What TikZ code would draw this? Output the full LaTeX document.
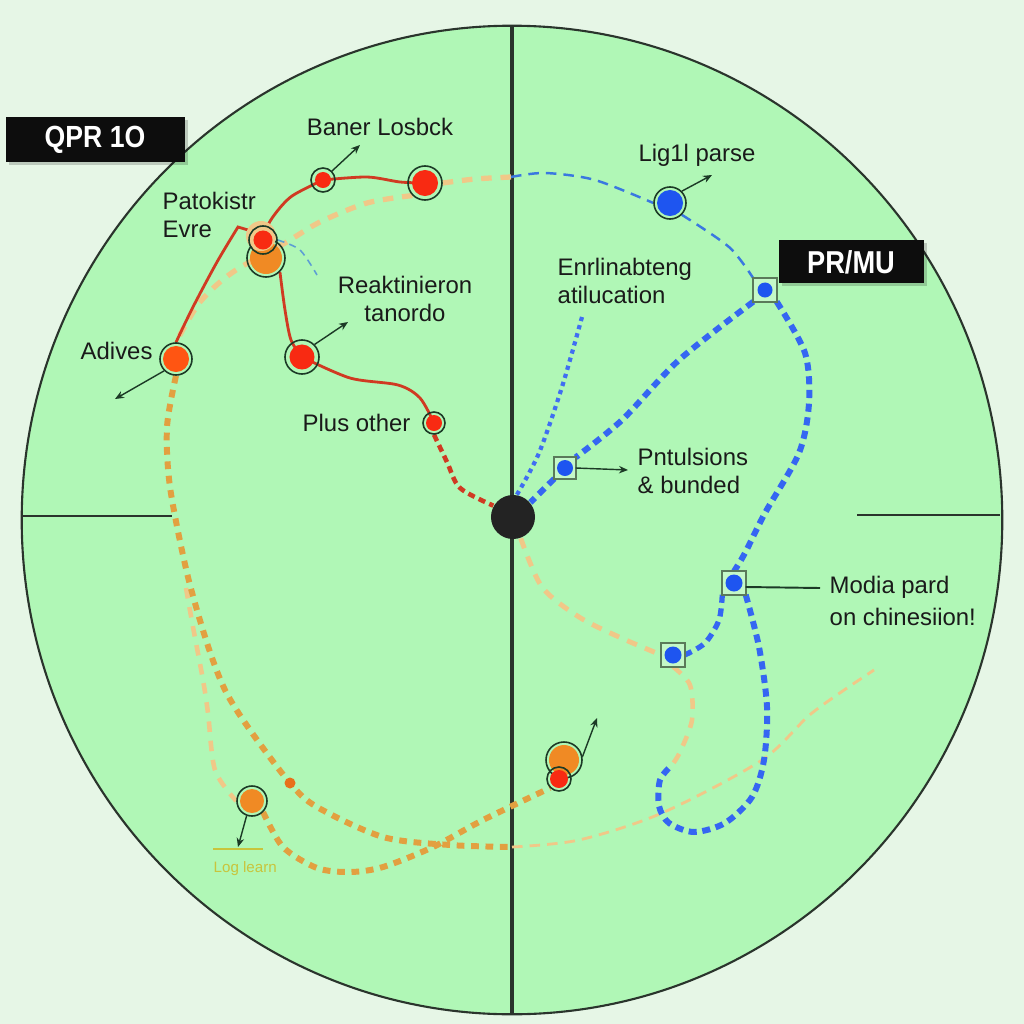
\documentclass[tikz,border=0pt]{standalone}
\usepackage{fontspec}
\setmainfont{Liberation Sans}
\usetikzlibrary{arrows.meta}
\definecolor{outbg}{HTML}{E6F6E6}
\definecolor{inbg}{HTML}{B0F7B6}
\definecolor{linec}{HTML}{2A342C}
\definecolor{ringc}{HTML}{1C3A26}
\definecolor{redl}{HTML}{D03A22}
\definecolor{redd}{HTML}{F82A12}
\definecolor{orred}{HTML}{FF5512}
\definecolor{orng}{HTML}{F08A24}
\definecolor{orngd}{HTML}{E2A040}
\definecolor{orngl}{HTML}{F0C888}
\definecolor{orngdot}{HTML}{E8701A}
\definecolor{bluec}{HTML}{1E55F0}
\definecolor{bluel}{HTML}{3A78E0}
\definecolor{txt}{HTML}{1A1A1A}
\definecolor{logc}{HTML}{C8C43C}
\definecolor{sqc}{HTML}{5A7A5A}
\definecolor{sqfill}{HTML}{C4F8C8}
\definecolor{dotc}{HTML}{232323}
\tikzset{
 nd/.style={circle,inner sep=0pt,minimum size=#1},
 lbl/.style={font=\fontsize{6.8}{8.2}\selectfont,text=txt,inner sep=0pt},
 arr/.style={draw=ringc,line width=0.4pt,-{Stealth[length=0.9mm,width=0.75mm]}},
 redsolid/.style={draw=redl,line width=0.8pt},
 reddashed/.style={draw=redl,line width=1.3pt,dash pattern=on 2pt off 1.3pt},
 bluethick/.style={draw=bluec!90!white,line width=1.7pt,dash pattern=on 2.3pt off 1.6pt},
 bluedot/.style={draw=bluec!85!white,line width=1.2pt,dash pattern=on 1.2pt off 1.2pt},
 bluethin/.style={draw=bluel,line width=0.7pt,dash pattern=on 3pt off 2pt},
 orlight/.style={draw=orngl,line width=1.5pt,dash pattern=on 3pt off 2.5pt},
 ordark/.style={draw=orngd,line width=1.7pt,dash pattern=on 2.2pt off 1.9pt},
 orthin/.style={draw=orngl,line width=0.8pt,dash pattern=on 3pt off 2pt},
 ringline/.style={draw=ringc,line width=0.45pt},
}
\newcommand\rdot[4]{\draw[ringline] (#1) circle[radius=#2]; \fill[#4] (#1) circle[radius=#3];}
\newcommand\sqdot[2]{\draw[sqc,line width=0.5pt,fill=sqfill] (#1.south west) rectangle (#1.north east); \fill[bluec] (#1) circle[radius=#2];}
\begin{document}
\begin{tikzpicture}[x=0.01cm,y=-0.01cm]
\fill[outbg] (0,0) rectangle (1024,1024);
\useasboundingbox (0,0) rectangle (1024,1024);
\fill[inbg] (512,520) ellipse[x radius=4.9cm,y radius=4.94cm];
\draw[linec,line width=0.6pt] (512,520) ellipse[x radius=4.9cm,y radius=4.94cm];
% axes
\draw[linec,line width=1pt] (512,27) -- (512,1013);
\draw[linec,line width=0.6pt] (22,516) -- (172,516);
\draw[linec,line width=0.6pt] (857,515) -- (1000,515);
% node geometry
\node[nd=3.2mm] (A) at (176,359) {};
\node[nd=2.8mm] (P1) at (263,240) {};
\node[nd=3.8mm] (P1o) at (266,258) {};
\node[nd=2.4mm] (B1) at (323,180) {};
\node[nd=3.4mm] (B2) at (425,183) {};
\node[nd=3.4mm] (R) at (302,357) {};
\node[nd=2.2mm] (PO) at (434,423) {};
\node[nd=4.4mm] (C) at (513,517) {};
\node[nd=3.2mm] (LP) at (670,203) {};
\node[nd=2.2mm,rectangle] (S1) at (765,290) {};
\node[nd=2.0mm,rectangle] (S2) at (565,468) {};
\node[nd=2.2mm,rectangle] (S3) at (734,583) {};
\node[nd=2.2mm,rectangle] (S4) at (673,655) {};
\node[nd=3.0mm] (LG) at (252,801) {};
\node[nd=3.6mm] (BO) at (564,760) {};
\node[nd=2.4mm] (BR) at (559,779) {};
\node[nd=1mm] (OD) at (290,783) {};
\coordinate (vt) at (511,177);
\coordinate (vb) at (512,847);
\coordinate (sp) at (186,588);
\coordinate (lp) at (672,765);
\coordinate (bt) at (582,317);
\coordinate (fe) at (874,670);
% orange dashed paths
\draw[orlight] plot[smooth] coordinates {(vt) (475,179) (B2.east)};
\draw[orlight] plot[smooth] coordinates {(B2.south west) (367,203) (320,222) (285,243) (233,272) (200,302) (A.north)};
\draw[orlight,line width=1.3pt] plot[smooth] coordinates {(sp) (193,627) (203,680) (208,713) (215,770) (LG.west)};
\draw[ordark] plot[smooth] coordinates {(A.south) (167,427) (170,487) (187,573) (207,643) (225,690) (250,730) (OD) (317,807) (383,837) (450,845) (vb)};
\draw[orthin] plot[smooth] coordinates {(vb) (579,840) (662,813) (762,760) (812,713) (fe)};
\draw[ordark] plot[smooth] coordinates {(LG.south east) (283,847) (317,868) (350,872) (383,867) (433,847) (483,820) (BR.south west)};
\draw[orlight,line width=1.4pt] plot[smooth] coordinates {(C.-70) (542,587) (579,617) (619,637) (S4.west)};
\draw[orlight,line width=1.3pt] plot[smooth] coordinates {(S4.south) (690,685) (692,720) (680,752) (lp)};
% red paths
\draw[redsolid] plot[smooth] coordinates {(A.north) (193,307) (217,262) (238,227)} -- (248,230) -- (P1.center);
\draw[redsolid] plot[smooth] coordinates {(P1.south) (266,230) (275,214) (292,196) (B1.center)};
\draw[redsolid] plot[smooth] coordinates {(B1.center) (367,177) (400,182) (B2.center)};
\draw[redsolid] plot[smooth] coordinates {(P1o.south east) (285,310) (291,340) (R.center)};
\draw[redsolid] plot[smooth] coordinates {(R.center) (350,378) (398,385) (420,398) (PO.center)};
\draw[reddashed] plot[smooth] coordinates {(PO.south) (447,462) (460,488) (C.150)};
\draw[bluel!70!inbg,line width=0.45pt,dash pattern=on 2pt off 1.5pt] plot[smooth] coordinates {(P1.east) (300,250) (317,275)};
% blue paths
\draw[bluethin] plot[smooth] coordinates {(vt) (545,173) (595,180) (LP.west)};
\draw[bluethin] plot[smooth] coordinates {(LP.south east) (729,247) (S1.north west)};
\draw[bluethick] plot[smooth] coordinates {(S1.south west) (679,360) (622,420) (S2.north east)};
\draw[bluethick] (S2.south west) -- (C.40);
\draw[bluedot] plot[smooth] coordinates {(bt) (562,387) (539,453) (C.80)};
\draw[bluethick] plot[smooth] coordinates {(S1.south east) (805,353) (809,403) (799,453) (765,513) (745,553) (S3.north)};
\draw[bluethick,line width=1.5pt] plot[smooth] coordinates {(S3.south west) (719,620) (705,643) (S4.east)};
\draw[bluethick] plot[smooth] coordinates {(S3.south east) (759,647) (767,707) (764,760) (752,797) (725,823) (694,832) (669,823) (659,806) (660,780) (lp)};
% dots
\rdot{A}{1.6mm}{1.3mm}{orred}
\rdot{P1o}{1.9mm}{1.6mm}{orng}
\fill[orngl] (261,236) circle[radius=1.5mm];
\rdot{P1}{1.4mm}{0.95mm}{redd}
\rdot{B1}{1.2mm}{0.8mm}{redd}
\rdot{B2}{1.7mm}{1.3mm}{redd}
\rdot{R}{1.7mm}{1.25mm}{redd}
\rdot{PO}{1.1mm}{0.8mm}{redd}
\rdot{LG}{1.5mm}{1.2mm}{orng}
\rdot{BO}{1.8mm}{1.5mm}{orng}
\rdot{BR}{1.2mm}{0.9mm}{redd}
\rdot{LP}{1.6mm}{1.3mm}{bluec}
\fill[orngdot] (OD) circle[radius=0.55mm];
\fill[dotc] (C) circle[radius=2.2mm];
\sqdot{S1}{0.75mm}
\sqdot{S2}{0.8mm}
\sqdot{S3}{0.85mm}
\sqdot{S4}{0.85mm}
% arrows
\coordinate (aB1) at (360,145);
\coordinate (aR) at (348,322);
\coordinate (aA) at (115,399);
\coordinate (aLP) at (712,175);
\coordinate (aS2) at (628,470);
\coordinate (aS3) at (820,588);
\coordinate (aLG) at (238,847);
\coordinate (aBO) at (597,718);
\draw[arr] (B1.north east) -- (aB1);
\draw[arr] (R.north east) -- (aR);
\draw[arr] (A.south west) -- (aA);
\draw[arr] (LP.north east) -- (aLP);
\draw[arr] (S2.east) -- (aS2);
\draw[ringline,line width=0.55pt] (S3.east) ++(0,4) -- (aS3);
\draw[arr] (LG.-110) -- (aLG);
\draw[arr] (BO.10) -- (aBO);
\draw[logc,line width=0.8pt] (213,849) -- (263,849);
% labels
\node[lbl] (tB) at (380,127) {Baner Losbck};
\node[lbl,anchor=west,align=left] (tP) at (162,215) {Patokistr\\Evre};
\node[lbl,align=center] (tR) at (405,299) {Reaktinieron\\tanordo};
\node[lbl,anchor=west] (tA) at (80,351) {Adives};
\node[lbl,anchor=west] (tPO) at (302,423) {Plus other};
\node[lbl] (tLP) at (697,155) {Lig1l parse};
\node[lbl,anchor=west,align=left] (tE) at (557,281) {Enrlinabteng\\atilucation};
\node[lbl,anchor=west,align=left] (tPn) at (637,471) {Pntulsions\\\& bunded};
\node[lbl,anchor=west,align=left,font=\fontsize{6.8}{9}\selectfont] (tM) at (829,601) {Modia pard\\on chinesiion!};
\node[lbl,anchor=west,text=logc,font=\fontsize{4.3}{5}\selectfont] (tLG) at (213,869) {Log learn};
% boxes
\fill[black,opacity=0.18] (9,120) rectangle (188,165);
\fill[black!95!white] (6,117) rectangle (185,162);
\node[text=white,font=\bfseries\fontsize{8.7}{10}\selectfont,xscale=0.87,inner sep=0pt] (q) at (95,140) {QPR 1O};
\fill[black,opacity=0.18] (782,243) rectangle (927,286);
\fill[black!95!white] (779,240) rectangle (924,283);
\node[text=white,font=\bfseries\fontsize{9}{10}\selectfont,xscale=0.86,inner sep=0pt] (pm) at (851,262) {PR/MU};
\end{tikzpicture}
\end{document}
